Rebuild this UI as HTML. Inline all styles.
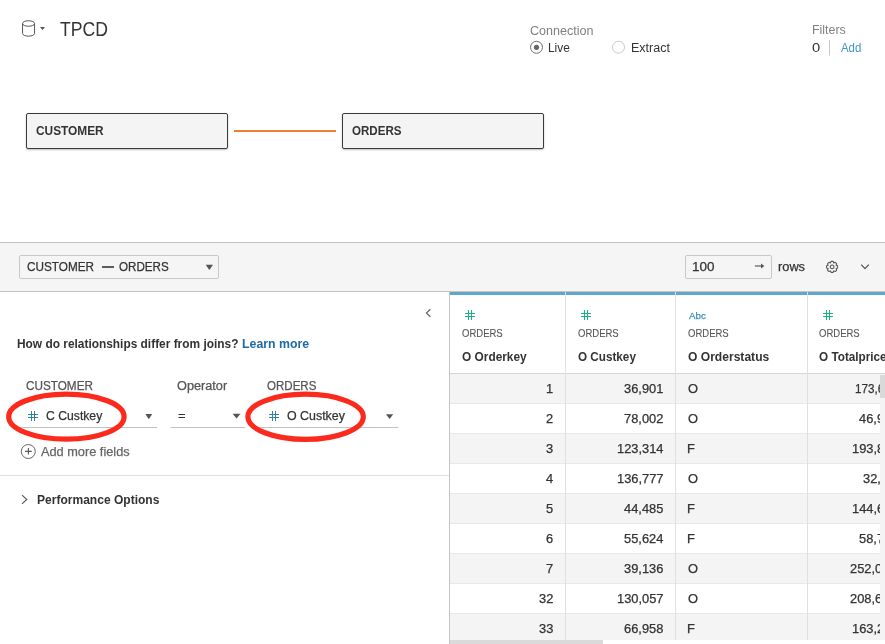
<!DOCTYPE html>
<html><head><meta charset="utf-8"><style>
html,body{margin:0;padding:0;}
body{width:885px;height:644px;overflow:hidden;position:relative;background:#fff;font-family:"Liberation Sans",sans-serif;}
.t{position:absolute;white-space:nowrap;transform-origin:0 0;}
.a{position:absolute;}
.row{position:absolute;left:450px;width:430px;height:29px;border-bottom:1px solid #e8e8e8;}
svg{position:absolute;overflow:visible;}
</style></head><body>
<!-- header -->
<svg style="left:0;top:0" width="885" height="80">
  <g fill="none" stroke="#555" stroke-width="1">
    <ellipse cx="28.55" cy="23.5" rx="6.0" ry="2.75"/>
    <path d="M22.55 23.5 V33.4 A6.0 2.75 0 0 0 34.55 33.4 V23.5"/>
  </g>
  <path d="M40 27 H45 L42.5 30.1 Z" fill="#555"/>
  <circle cx="536.5" cy="47.3" r="6" fill="#fff" stroke="#6f6f6f" stroke-width="1"/>
  <circle cx="536.5" cy="47.3" r="2.6" fill="#666"/>
  <circle cx="618.5" cy="47.2" r="6" fill="#fff" stroke="#c9c9c9" stroke-width="1"/>
  <rect x="829" y="40" width="1" height="15.5" fill="#c8c8c8"/>
</svg>
<div class="a" style="left:26px;top:113px;width:200px;height:34px;border:1px solid #3a3a3a;border-radius:2px;background:#f4f4f4;box-shadow:0 1px 2px rgba(0,0,0,.25)"></div>
<div class="a" style="left:342px;top:113px;width:200px;height:34px;border:1px solid #3a3a3a;border-radius:2px;background:#f4f4f4;box-shadow:0 1px 2px rgba(0,0,0,.25)"></div>
<div class="a" style="left:234px;top:130px;width:102px;height:2px;background:#ed8131"></div>
<!-- bar -->
<div class="a" style="left:0;top:242px;width:885px;height:48px;border-top:1px solid #c4c4c4;border-bottom:1px solid #c4c4c4;background:#f5f5f5"></div>
<div class="a" style="left:19px;top:255px;width:198px;height:22px;border:1px solid #c8c8c8;border-radius:2px;background:#f5f5f5"></div>
<div class="a" style="left:685px;top:255px;width:85px;height:22px;border:1px solid #c8c8c8;border-radius:2px;background:#f5f5f5"></div>
<div class="a" style="left:101.7px;top:266px;width:12px;height:2px;background:#5c5c5c"></div>
<svg style="left:0;top:0" width="885" height="300">
  <path d="M205.7 264.8 H213 L209.35 270 Z" fill="#555"/>
  <rect x="754.9" y="265.1" width="6.3" height="1.7" fill="#8a8a8a"/><path d="M761 263.5 L764.4 265.95 L761 268.4 Z" fill="#555"/>
  <g transform="translate(832.1 266.9)" fill="none" stroke="#555" stroke-width="1.05">
    <path d="M-1.61 -3.99 L-1.07 -5.50 L1.07 -5.50 L1.61 -3.99 L1.68 -3.96 L3.13 -4.64 L4.64 -3.13 L3.96 -1.68 L3.99 -1.61 L5.50 -1.07 L5.50 1.07 L3.99 1.61 L3.96 1.68 L4.64 3.13 L3.13 4.64 L1.68 3.96 L1.61 3.99 L1.07 5.50 L-1.07 5.50 L-1.61 3.99 L-1.68 3.96 L-3.13 4.64 L-4.64 3.13 L-3.96 1.68 L-3.99 1.61 L-5.50 1.07 L-5.50 -1.07 L-3.99 -1.61 L-3.96 -1.68 L-4.64 -3.13 L-3.13 -4.64 L-1.68 -3.96 Z" stroke-linejoin="round"/>
    <circle r="1.9"/>
  </g>
  <path d="M861.2 264.6 L865 268.6 L868.8 264.6" fill="none" stroke="#555" stroke-width="1.3"/>
</svg>
<!-- left panel -->
<div class="a" style="left:449px;top:292px;width:1px;height:352px;background:#c4c4c4"></div>
<div class="a" style="left:0;top:475px;width:449px;height:1px;background:#e0e0e0"></div>
<svg style="left:0;top:0" width="885" height="644">
  <path d="M430.4 309.2 L426.4 313 L430.4 316.8" fill="none" stroke="#666" stroke-width="1.2"/>
  <rect x="20.5" y="427" width="136.6" height="1" fill="#c2c2c2"/>
  <rect x="170.5" y="427" width="74.7" height="1" fill="#c2c2c2"/>
  <rect x="258" y="427" width="140.4" height="1" fill="#c2c2c2"/>
  <path d="M145.4 414.1 H152.2 L148.8 419.2 Z" fill="#555"/>
  <path d="M232.6 413.8 H240.5 L236.55 418.6 Z" fill="#555"/>
  <path d="M386 414.2 H393.2 L389.6 419.1 Z" fill="#555"/>
  <g fill="#337f9f"><rect x="31" y="411" width="1" height="10"/><rect x="34" y="411" width="1" height="10"/><rect x="28" y="414" width="10" height="1"/><rect x="28" y="417" width="10" height="1"/></g>
  <g fill="#337f9f"><rect x="272" y="411" width="1" height="10"/><rect x="275" y="411" width="1" height="10"/><rect x="269" y="414" width="10" height="1"/><rect x="269" y="417" width="10" height="1"/></g>
  <rect x="178.5" y="414" width="6.5" height="1" fill="#333"/><rect x="178.5" y="417" width="6.5" height="1" fill="#333"/>
  <circle cx="28.3" cy="451.5" r="7" fill="none" stroke="#666" stroke-width="1"/>
  <path d="M28.4 448.1 V454.6 M25.1 451.4 H31.7" stroke="#555" stroke-width="1.1"/>
  <path d="M22 495.2 L26.8 499.5 L22 503.8" fill="none" stroke="#555" stroke-width="1.1"/>
  <ellipse cx="66.4" cy="416.7" rx="57.7" ry="22.5" fill="none" stroke="#fc2a1c" stroke-width="5.2"/>
  <ellipse cx="305.6" cy="416.8" rx="57.7" ry="22.6" fill="none" stroke="#fc2a1c" stroke-width="5.2"/>
</svg>
<!-- grid -->
<div class="row" style="top:374px;background:#f4f4f4"></div><div class="row" style="top:404px;background:#ffffff"></div><div class="row" style="top:434px;background:#f4f4f4"></div><div class="row" style="top:464px;background:#ffffff"></div><div class="row" style="top:494px;background:#f4f4f4"></div><div class="row" style="top:524px;background:#ffffff"></div><div class="row" style="top:554px;background:#f4f4f4"></div><div class="row" style="top:584px;background:#ffffff"></div><div class="row" style="top:614px;background:#f4f4f4"></div>
<div class="a" style="left:450px;top:292px;width:435px;height:3px;background:#5fa6ca"></div>
<div class="a" style="left:450px;top:373px;width:435px;height:1px;background:#d4d4d4"></div>
<div class="a" style="left:565px;top:292px;width:1px;height:348px;background:#e0e0e0"></div>
<div class="a" style="left:675px;top:292px;width:1px;height:348px;background:#e0e0e0"></div>
<div class="a" style="left:807px;top:292px;width:1px;height:348px;background:#e0e0e0"></div>
<svg style="left:0;top:0" width="885" height="644">
  <g fill="#17b382"><rect x="468" y="310" width="1" height="10"/><rect x="471" y="310" width="1" height="10"/><rect x="465" y="313" width="10" height="1"/><rect x="465" y="316" width="10" height="1"/></g>
  <g fill="#17b382"><rect x="584" y="310" width="1" height="10"/><rect x="587" y="310" width="1" height="10"/><rect x="581" y="313" width="10" height="1"/><rect x="581" y="316" width="10" height="1"/></g>
  <g fill="#17b382"><rect x="826" y="310" width="1" height="10"/><rect x="829" y="310" width="1" height="10"/><rect x="823" y="313" width="10" height="1"/><rect x="823" y="316" width="10" height="1"/></g>
</svg>
<div style="position:absolute;left:0;top:0;width:885px;height:644px;will-change:transform"><div class="t" style="left:60.23px;top:19.00px;font-size:20.49px;line-height:20.49px;font-weight:normal;color:#333;transform:scaleX(0.8597);">TPCD</div>
<div class="t" style="left:529.96px;top:24.01px;font-size:13.23px;line-height:13.23px;font-weight:normal;color:#808080;transform:scaleX(0.9485);">Connection</div>
<div class="t" style="left:548.00px;top:42.02px;font-size:12.65px;line-height:12.65px;font-weight:normal;color:#333333;transform:scaleX(0.9402);">Live</div>
<div class="t" style="left:630.51px;top:42.02px;font-size:12.65px;line-height:12.65px;font-weight:normal;color:#333333;transform:scaleX(0.9889);">Extract</div>
<div class="t" style="left:811.74px;top:24.00px;font-size:12.06px;line-height:12.06px;font-weight:normal;color:#808080;transform:scaleX(1.0311);">Filters</div>
<div class="t" style="left:812.07px;top:42.01px;font-size:12.5px;line-height:12.5px;font-weight:normal;color:#333333;transform:scaleX(1.1770);">0</div>
<div class="t" style="left:840.70px;top:42.02px;font-size:12.65px;line-height:12.65px;font-weight:normal;color:#3f95c6;transform:scaleX(0.9022);">Add</div>
<div class="t" style="left:36.30px;top:124.00px;font-size:13.08px;line-height:13.08px;font-weight:bold;color:#333333;transform:scaleX(0.9070);">CUSTOMER</div>
<div class="t" style="left:352.25px;top:124.00px;font-size:13.08px;line-height:13.08px;font-weight:bold;color:#333333;transform:scaleX(0.8852);">ORDERS</div>
<div class="t" style="left:26.73px;top:261.00px;font-size:12.79px;line-height:12.79px;font-weight:normal;color:#333333;transform:scaleX(0.9187);-webkit-text-stroke:0.25px currentColor;">CUSTOMER</div>
<div class="t" style="left:119.15px;top:261.00px;font-size:12.79px;line-height:12.79px;font-weight:normal;color:#333333;transform:scaleX(0.9090);-webkit-text-stroke:0.25px currentColor;">ORDERS</div>
<div class="t" style="left:692.35px;top:261.01px;font-size:12.79px;line-height:12.79px;font-weight:normal;color:#333333;transform:scaleX(1.0528);-webkit-text-stroke:0.25px currentColor;">100</div>
<div class="t" style="left:777.88px;top:261.01px;font-size:12.79px;line-height:12.79px;font-weight:normal;color:#333333;transform:scaleX(1.0014);-webkit-text-stroke:0.25px currentColor;">rows</div>
<div class="t" style="left:17.02px;top:338.01px;font-size:12.94px;line-height:12.94px;font-weight:bold;color:#333333;transform:scaleX(0.9195);">How do relationships differ from joins?</div>
<div class="t" style="left:242.23px;top:338.01px;font-size:12.94px;line-height:12.94px;font-weight:bold;color:#206ba4;transform:scaleX(0.9522);">Learn more</div>
<div class="t" style="left:25.74px;top:380.01px;font-size:12.21px;line-height:12.21px;font-weight:normal;color:#555;transform:scaleX(0.9616);-webkit-text-stroke:0.25px currentColor;">CUSTOMER</div>
<div class="t" style="left:176.65px;top:380.02px;font-size:12.21px;line-height:12.21px;font-weight:normal;color:#555;transform:scaleX(1.0405);-webkit-text-stroke:0.25px currentColor;">Operator</div>
<div class="t" style="left:266.62px;top:380.02px;font-size:12.21px;line-height:12.21px;font-weight:normal;color:#555;transform:scaleX(0.9452);-webkit-text-stroke:0.25px currentColor;">ORDERS</div>
<div class="t" style="left:46.20px;top:410.01px;font-size:12.65px;line-height:12.65px;font-weight:normal;color:#333333;transform:scaleX(0.9649);-webkit-text-stroke:0.25px currentColor;">C Custkey</div>
<div class="t" style="left:286.83px;top:410.01px;font-size:12.65px;line-height:12.65px;font-weight:normal;color:#333333;transform:scaleX(0.9812);-webkit-text-stroke:0.25px currentColor;">O Custkey</div>
<div class="t" style="left:41.28px;top:446.01px;font-size:12.79px;line-height:12.79px;font-weight:normal;color:#666;transform:scaleX(0.9980);-webkit-text-stroke:0.25px currentColor;">Add more fields</div>
<div class="t" style="left:37.00px;top:494.01px;font-size:12.65px;line-height:12.65px;font-weight:bold;color:#333333;transform:scaleX(0.9523);">Performance Options</div>
<div class="t" style="left:461.97px;top:328.00px;font-size:11.05px;line-height:11.05px;font-weight:normal;color:#555;transform:scaleX(0.8613);-webkit-text-stroke:0.1px currentColor;">ORDERS</div>
<div class="t" style="left:461.89px;top:351.00px;font-size:12.06px;line-height:12.06px;font-weight:bold;color:#333333;transform:scaleX(0.9857);">O Orderkey</div>
<div class="t" style="left:577.57px;top:328.00px;font-size:11.05px;line-height:11.05px;font-weight:normal;color:#555;transform:scaleX(0.8613);-webkit-text-stroke:0.1px currentColor;">ORDERS</div>
<div class="t" style="left:578.00px;top:351.00px;font-size:12.06px;line-height:12.06px;font-weight:bold;color:#333333;transform:scaleX(0.9715);">O Custkey</div>
<div class="t" style="left:687.97px;top:328.00px;font-size:11.05px;line-height:11.05px;font-weight:normal;color:#555;transform:scaleX(0.8613);-webkit-text-stroke:0.1px currentColor;">ORDERS</div>
<div class="t" style="left:687.68px;top:351.00px;font-size:12.06px;line-height:12.06px;font-weight:bold;color:#333333;transform:scaleX(1.0027);">O Orderstatus</div>
<div class="t" style="left:819.36px;top:328.00px;font-size:11.05px;line-height:11.05px;font-weight:normal;color:#555;transform:scaleX(0.8613);-webkit-text-stroke:0.1px currentColor;">ORDERS</div>
<div class="t" style="left:819.29px;top:351.00px;font-size:12.06px;line-height:12.06px;font-weight:bold;color:#333333;transform:scaleX(0.9750);">O Totalprice</div>
<div class="t" style="left:688.92px;top:311.01px;font-size:9.88px;line-height:9.88px;font-weight:normal;color:#3d8db8;transform:scaleX(0.9870);-webkit-text-stroke:0.25px currentColor;">Abc</div>
<div class="t" style="left:545.87px;top:384.00px;font-size:11.92px;line-height:11.92px;font-weight:normal;color:#333333;transform:scaleX(1.0800);-webkit-text-stroke:0.25px currentColor;">1</div>
<div class="t" style="left:623.69px;top:384.00px;font-size:11.92px;line-height:11.92px;font-weight:normal;color:#333333;transform:scaleX(1.0800);-webkit-text-stroke:0.25px currentColor;">36,901</div>
<div class="t" style="left:688.00px;top:384.00px;font-size:11.92px;line-height:11.92px;font-weight:normal;color:#333333;transform:scaleX(1.0800);-webkit-text-stroke:0.25px currentColor;">O</div>
<div class="t" style="left:855.20px;top:384.00px;font-size:11.92px;line-height:11.92px;font-weight:normal;color:#333333;transform:scaleX(0.9800);-webkit-text-stroke:0.25px currentColor;">173,665.47</div>
<div class="t" style="left:545.87px;top:414.00px;font-size:11.92px;line-height:11.92px;font-weight:normal;color:#333333;transform:scaleX(1.0800);-webkit-text-stroke:0.25px currentColor;">2</div>
<div class="t" style="left:623.69px;top:414.00px;font-size:11.92px;line-height:11.92px;font-weight:normal;color:#333333;transform:scaleX(1.0800);-webkit-text-stroke:0.25px currentColor;">78,002</div>
<div class="t" style="left:688.00px;top:414.00px;font-size:11.92px;line-height:11.92px;font-weight:normal;color:#333333;transform:scaleX(1.0800);-webkit-text-stroke:0.25px currentColor;">O</div>
<div class="t" style="left:859.40px;top:414.00px;font-size:11.92px;line-height:11.92px;font-weight:normal;color:#333333;transform:scaleX(1.0800);-webkit-text-stroke:0.25px currentColor;">46,929.18</div>
<div class="t" style="left:545.87px;top:444.00px;font-size:11.92px;line-height:11.92px;font-weight:normal;color:#333333;transform:scaleX(1.0800);-webkit-text-stroke:0.25px currentColor;">3</div>
<div class="t" style="left:616.56px;top:444.00px;font-size:11.92px;line-height:11.92px;font-weight:normal;color:#333333;transform:scaleX(1.0800);-webkit-text-stroke:0.25px currentColor;">123,314</div>
<div class="t" style="left:686.97px;top:444.00px;font-size:11.92px;line-height:11.92px;font-weight:normal;color:#333333;transform:scaleX(1.0800);-webkit-text-stroke:0.25px currentColor;">F</div>
<div class="t" style="left:852.40px;top:444.00px;font-size:11.92px;line-height:11.92px;font-weight:normal;color:#333333;transform:scaleX(1.0800);-webkit-text-stroke:0.25px currentColor;">193,846.25</div>
<div class="t" style="left:545.87px;top:474.00px;font-size:11.92px;line-height:11.92px;font-weight:normal;color:#333333;transform:scaleX(1.0800);-webkit-text-stroke:0.25px currentColor;">4</div>
<div class="t" style="left:616.56px;top:474.00px;font-size:11.92px;line-height:11.92px;font-weight:normal;color:#333333;transform:scaleX(1.0800);-webkit-text-stroke:0.25px currentColor;">136,777</div>
<div class="t" style="left:688.00px;top:474.00px;font-size:11.92px;line-height:11.92px;font-weight:normal;color:#333333;transform:scaleX(1.0800);-webkit-text-stroke:0.25px currentColor;">O</div>
<div class="t" style="left:863.30px;top:474.00px;font-size:11.92px;line-height:11.92px;font-weight:normal;color:#333333;transform:scaleX(1.0800);-webkit-text-stroke:0.25px currentColor;">32,151.78</div>
<div class="t" style="left:545.87px;top:504.00px;font-size:11.92px;line-height:11.92px;font-weight:normal;color:#333333;transform:scaleX(1.0800);-webkit-text-stroke:0.25px currentColor;">5</div>
<div class="t" style="left:623.69px;top:504.00px;font-size:11.92px;line-height:11.92px;font-weight:normal;color:#333333;transform:scaleX(1.0800);-webkit-text-stroke:0.25px currentColor;">44,485</div>
<div class="t" style="left:686.97px;top:504.00px;font-size:11.92px;line-height:11.92px;font-weight:normal;color:#333333;transform:scaleX(1.0800);-webkit-text-stroke:0.25px currentColor;">F</div>
<div class="t" style="left:852.40px;top:504.00px;font-size:11.92px;line-height:11.92px;font-weight:normal;color:#333333;transform:scaleX(1.0800);-webkit-text-stroke:0.25px currentColor;">144,659.20</div>
<div class="t" style="left:545.87px;top:534.00px;font-size:11.92px;line-height:11.92px;font-weight:normal;color:#333333;transform:scaleX(1.0800);-webkit-text-stroke:0.25px currentColor;">6</div>
<div class="t" style="left:623.69px;top:534.00px;font-size:11.92px;line-height:11.92px;font-weight:normal;color:#333333;transform:scaleX(1.0800);-webkit-text-stroke:0.25px currentColor;">55,624</div>
<div class="t" style="left:686.97px;top:534.00px;font-size:11.92px;line-height:11.92px;font-weight:normal;color:#333333;transform:scaleX(1.0800);-webkit-text-stroke:0.25px currentColor;">F</div>
<div class="t" style="left:859.29px;top:534.00px;font-size:11.92px;line-height:11.92px;font-weight:normal;color:#333333;transform:scaleX(1.0800);-webkit-text-stroke:0.25px currentColor;">58,749.59</div>
<div class="t" style="left:545.87px;top:564.00px;font-size:11.92px;line-height:11.92px;font-weight:normal;color:#333333;transform:scaleX(1.0800);-webkit-text-stroke:0.25px currentColor;">7</div>
<div class="t" style="left:623.69px;top:564.00px;font-size:11.92px;line-height:11.92px;font-weight:normal;color:#333333;transform:scaleX(1.0800);-webkit-text-stroke:0.25px currentColor;">39,136</div>
<div class="t" style="left:688.00px;top:564.00px;font-size:11.92px;line-height:11.92px;font-weight:normal;color:#333333;transform:scaleX(1.0800);-webkit-text-stroke:0.25px currentColor;">O</div>
<div class="t" style="left:850.13px;top:564.00px;font-size:11.92px;line-height:11.92px;font-weight:normal;color:#333333;transform:scaleX(1.0800);-webkit-text-stroke:0.25px currentColor;">252,004.18</div>
<div class="t" style="left:538.69px;top:594.00px;font-size:11.92px;line-height:11.92px;font-weight:normal;color:#333333;transform:scaleX(1.0800);-webkit-text-stroke:0.25px currentColor;">32</div>
<div class="t" style="left:616.56px;top:594.00px;font-size:11.92px;line-height:11.92px;font-weight:normal;color:#333333;transform:scaleX(1.0800);-webkit-text-stroke:0.25px currentColor;">130,057</div>
<div class="t" style="left:688.00px;top:594.00px;font-size:11.92px;line-height:11.92px;font-weight:normal;color:#333333;transform:scaleX(1.0800);-webkit-text-stroke:0.25px currentColor;">O</div>
<div class="t" style="left:850.13px;top:594.00px;font-size:11.92px;line-height:11.92px;font-weight:normal;color:#333333;transform:scaleX(1.0800);-webkit-text-stroke:0.25px currentColor;">208,660.75</div>
<div class="t" style="left:538.69px;top:624.00px;font-size:11.92px;line-height:11.92px;font-weight:normal;color:#333333;transform:scaleX(1.0800);-webkit-text-stroke:0.25px currentColor;">33</div>
<div class="t" style="left:623.69px;top:624.00px;font-size:11.92px;line-height:11.92px;font-weight:normal;color:#333333;transform:scaleX(1.0800);-webkit-text-stroke:0.25px currentColor;">66,958</div>
<div class="t" style="left:686.97px;top:624.00px;font-size:11.92px;line-height:11.92px;font-weight:normal;color:#333333;transform:scaleX(1.0800);-webkit-text-stroke:0.25px currentColor;">F</div>
<div class="t" style="left:851.59px;top:624.00px;font-size:11.92px;line-height:11.92px;font-weight:normal;color:#333333;transform:scaleX(1.0800);-webkit-text-stroke:0.25px currentColor;">163,243.98</div></div>
<div class="a" style="left:880px;top:374px;width:5px;height:266px;background:#f4f4f4"></div>
<div class="a" style="left:880px;top:375px;width:5px;height:22.5px;background:#d9d9d9"></div>
<div class="a" style="left:450px;top:640px;width:435px;height:4px;background:#fff"></div>
<div class="a" style="left:450px;top:640px;width:153px;height:4px;background:#dadada"></div>
</body></html>
